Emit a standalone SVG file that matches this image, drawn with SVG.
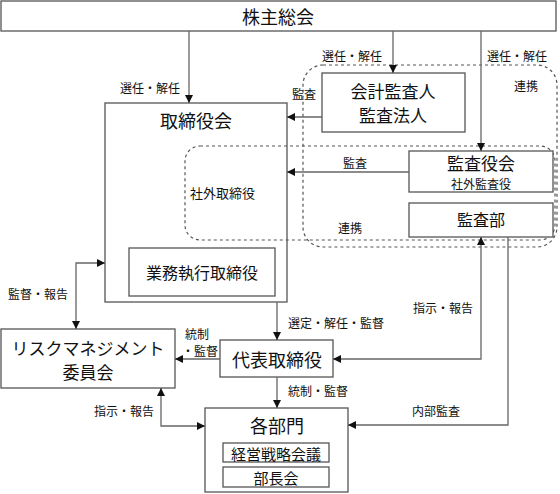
<svg xmlns="http://www.w3.org/2000/svg" width="560" height="494" viewBox="0 0 560 494">
<defs>
<marker id="ah" viewBox="0 0 10 10" refX="10" refY="5" markerWidth="8" markerHeight="8" markerUnits="userSpaceOnUse" orient="auto-start-reverse">
<path d="M0,0 L10,5 L0,10 Z" fill="#111"/>
</marker>
<style>
text{font-family:"Noto Sans CJK JP","Noto Sans",sans-serif;fill:#111;text-anchor:middle;dominant-baseline:central}
.box{fill:#fff;stroke:#555;stroke-width:1.3}
.dash{fill:none;stroke:#555;stroke-width:1.2;stroke-dasharray:3,3}
.ln{fill:none;stroke:#666;stroke-width:1.3}
.big{font-size:18px}
.mid{font-size:16px}
.sm{font-size:12px}
</style>
</defs>
<rect width="560" height="494" fill="#fff"/>

<g id="shareholders">
<rect class="box" x="1" y="1" width="555" height="30"/>
<text class="big" x="278" y="16">株主総会</text>
</g>

<g id="board">
<rect class="box" x="105" y="103" width="182" height="199"/>
<text class="big" x="196" y="120">取締役会</text>
</g>

<g id="outside-directors-frame">
<rect class="dash" x="185" y="146" width="370" height="94" rx="15"/>
<text style="font-size:13px;text-anchor:start" x="190" y="192">社外取締役</text>
</g>

<g id="cooperation-frame">
<rect class="dash" x="303" y="65" width="254" height="182" rx="20"/>
</g>

<g id="exec-directors">
<rect class="box" x="129" y="248" width="146" height="48"/>
<text class="mid" x="202" y="272">業務執行取締役</text>
</g>

<g id="accounting-auditor">
<rect class="box" x="322" y="73" width="143" height="59"/>
<text style="font-size:17px" x="393" y="90">会計監査人</text>
<text style="font-size:17px" x="393" y="114">監査法人</text>
</g>

<g id="audit-board">
<rect class="box" x="409" y="151" width="144" height="41"/>
<text style="font-size:17px" x="481" y="162">監査役会</text>
<text style="font-size:12px" x="481" y="183">社外監査役</text>
</g>

<g id="audit-dept">
<rect class="box" x="409" y="203" width="144" height="34"/>
<text class="mid" x="481" y="219">監査部</text>
</g>

<g id="risk-committee">
<rect class="box" x="1" y="329" width="174" height="59"/>
<text style="font-size:17px" x="88" y="347">リスクマネジメント</text>
<text style="font-size:17px" x="88" y="371">委員会</text>
</g>

<g id="ceo">
<rect class="box" x="220" y="340" width="113" height="37"/>
<text class="big" x="277" y="359">代表取締役</text>
</g>

<g id="departments">
<rect class="box" x="205" y="408" width="143" height="84"/>
<text style="font-size:18px" x="277" y="425">各部門</text>
<rect class="box" x="223" y="443" width="106" height="19"/>
<text style="font-size:15px" x="276" y="453">経営戦略会議</text>
<rect class="box" x="223" y="467" width="106" height="20"/>
<text style="font-size:15px" x="276" y="477">部長会</text>
</g>

<g id="connectors">
<path class="ln" d="M189,31 V103" marker-end="url(#ah)"/>
<text class="sm" x="150" y="87">選任・解任</text>
<path class="ln" d="M393,31 V73" marker-end="url(#ah)"/>
<text class="sm" x="352" y="55">選任・解任</text>
<path class="ln" d="M481,31 V151" marker-end="url(#ah)"/>
<text class="sm" x="517" y="55">選任・解任</text>
<text class="sm" x="526" y="85">連携</text>

<path class="ln" d="M322,117 H287" marker-end="url(#ah)"/>
<text class="sm" x="304" y="93">監査</text>
<path class="ln" d="M409,172 H287" marker-end="url(#ah)"/>
<text class="sm" x="355" y="162">監査</text>
<text class="sm" x="350" y="227">連携</text>

<path class="ln" d="M105,263 H76 V329" marker-start="url(#ah)" marker-end="url(#ah)"/>
<text class="sm" x="38" y="293">監督・報告</text>

<path class="ln" d="M277,302 V340" marker-end="url(#ah)"/>
<text class="sm" style="text-anchor:start" x="288" y="322">選定・解任・監督</text>

<path class="ln" d="M220,359 H175" marker-end="url(#ah)"/>
<text class="sm" x="197" y="333">統制</text>
<text class="sm" style="text-anchor:end" x="218" y="350">・監督</text>

<path class="ln" d="M481,237 V359 H333" marker-start="url(#ah)" marker-end="url(#ah)"/>
<text class="sm" x="443" y="307">指示・報告</text>

<path class="ln" d="M277,377 V408" marker-end="url(#ah)"/>
<text class="sm" style="text-anchor:start" x="288" y="390">統制・監督</text>

<path class="ln" d="M161,388 V426 H205" marker-start="url(#ah)" marker-end="url(#ah)"/>
<text class="sm" x="124" y="410">指示・報告</text>

<path class="ln" d="M508,237 V425 H348" marker-end="url(#ah)"/>
<text class="sm" x="436" y="410">内部監査</text>
</g>
</svg>
